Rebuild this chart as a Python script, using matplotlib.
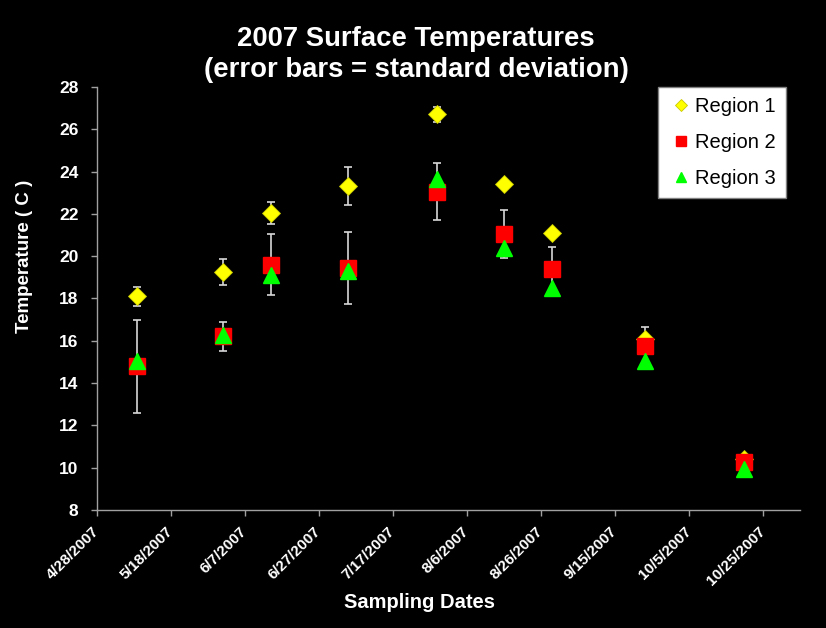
import matplotlib
matplotlib.use('Agg')
import matplotlib.pyplot as plt
from datetime import date, timedelta

# sampling dates and temperatures
dates = [date(2007, 5, 9), date(2007, 6, 1), date(2007, 6, 14), date(2007, 7, 5),
         date(2007, 7, 29), date(2007, 8, 16), date(2007, 8, 29), date(2007, 9, 23),
         date(2007, 10, 20)]
region1 = [18.1, 19.25, 22.05, 23.3, 26.7, 23.4, 21.1, 16.1, 10.4]
region1_sd = [0.45, 0.6, 0.53, 0.9, 0.36, 0.1, 0.1, 0.55, 0.15]
region2 = [14.8, 16.2, 19.6, 19.45, 23.05, 21.05, 19.4, 15.75, 10.25]
region2_sd = [2.2, 0.7, 1.45, 1.7, 1.36, 1.13, 1.04, 0.3, 0.2]
region3 = [15.05, 16.25, 19.1, 19.3, 23.65, 20.4, 18.5, 15.05, 9.95]

tick_start = date(2007, 4, 28)
tick_dates = [tick_start + timedelta(days=20 * i) for i in range(10)]
x_end = date(2007, 11, 4)

plt.rcParams['font.family'] = ['Liberation Sans', 'DejaVu Sans']

fig = plt.figure(figsize=(8.26, 6.28), dpi=100, facecolor='black')
ax = fig.add_axes([0.117, 0.188, 0.8515, 0.6736], facecolor='black')

ebc = '#d8d8d8'
ax.errorbar(dates, region1, yerr=region1_sd, fmt='none', ecolor=ebc,
            elinewidth=1.2, capsize=3, capthick=1.2, zorder=2)
ax.errorbar(dates, region2, yerr=region2_sd, fmt='none', ecolor=ebc,
            elinewidth=1.2, capsize=3, capthick=1.2, zorder=2)
ax.plot(dates, region1, 'D', color='#ffff00', mec='#c8c800', mew=0.6,
        ms=9, label='Region 1', zorder=3)
ax.plot(dates, region2, 's', color='#ff0000', mec='#ff0000',
        ms=11, label='Region 2', zorder=4)
ax.plot(dates, region3, '^', color='#00ff00', mec='#00ff00',
        ms=11, label='Region 3', zorder=5)

ax.set_xlim(tick_start, x_end)
ax.set_ylim(8, 28)
ax.set_yticks(range(8, 29, 2))
ax.set_xticks(tick_dates)
ax.set_xticklabels([f"{d.month}/{d.day}/{d.year}" for d in tick_dates],
                   rotation=45, ha='right', va='center', rotation_mode='anchor',
                   fontsize=11, fontweight='bold', color='white')
for lbl in ax.get_yticklabels():
    lbl.set_fontsize(12.5)
    lbl.set_fontweight('bold')
    lbl.set_color('white')

for s in ['top', 'right']:
    ax.spines[s].set_visible(False)
for s in ['left', 'bottom']:
    ax.spines[s].set_color('#a0a0a0')
    ax.spines[s].set_linewidth(1)
ax.tick_params(axis='both', color='#a0a0a0', labelcolor='white', length=4,
               width=1, direction='out')
ax.tick_params(axis='y', pad=9)
ax.tick_params(axis='x', pad=10)

ax.set_xlabel('Sampling Dates', fontsize=14.5, fontweight='bold', color='white')
ax.xaxis.set_label_coords(0.459, -0.197)
ax.set_ylabel('Temperature ( C )', fontsize=13.5, fontweight='bold', color='white')
ax.yaxis.set_label_coords(-0.09, 0.6)

fig.text(0.504, 0.958, '2007 Surface Temperatures\n(error bars = standard deviation)',
         ha='center', va='top', fontsize=19.8, fontweight='bold', color='white',
         linespacing=1.25)

leg = ax.legend(loc='upper right', bbox_to_anchor=(0.98, 1.0), borderaxespad=0,
                fontsize=14.5, frameon=True, fancybox=False, handletextpad=0.05,
                handlelength=1.3, borderpad=0.5, labelspacing=0.85, markerscale=0.7)
leg.get_frame().set_facecolor('white')
leg.get_frame().set_edgecolor('#808080')
leg.get_frame().set_alpha(1)

fig.savefig('out.png', dpi=100, facecolor='black')
